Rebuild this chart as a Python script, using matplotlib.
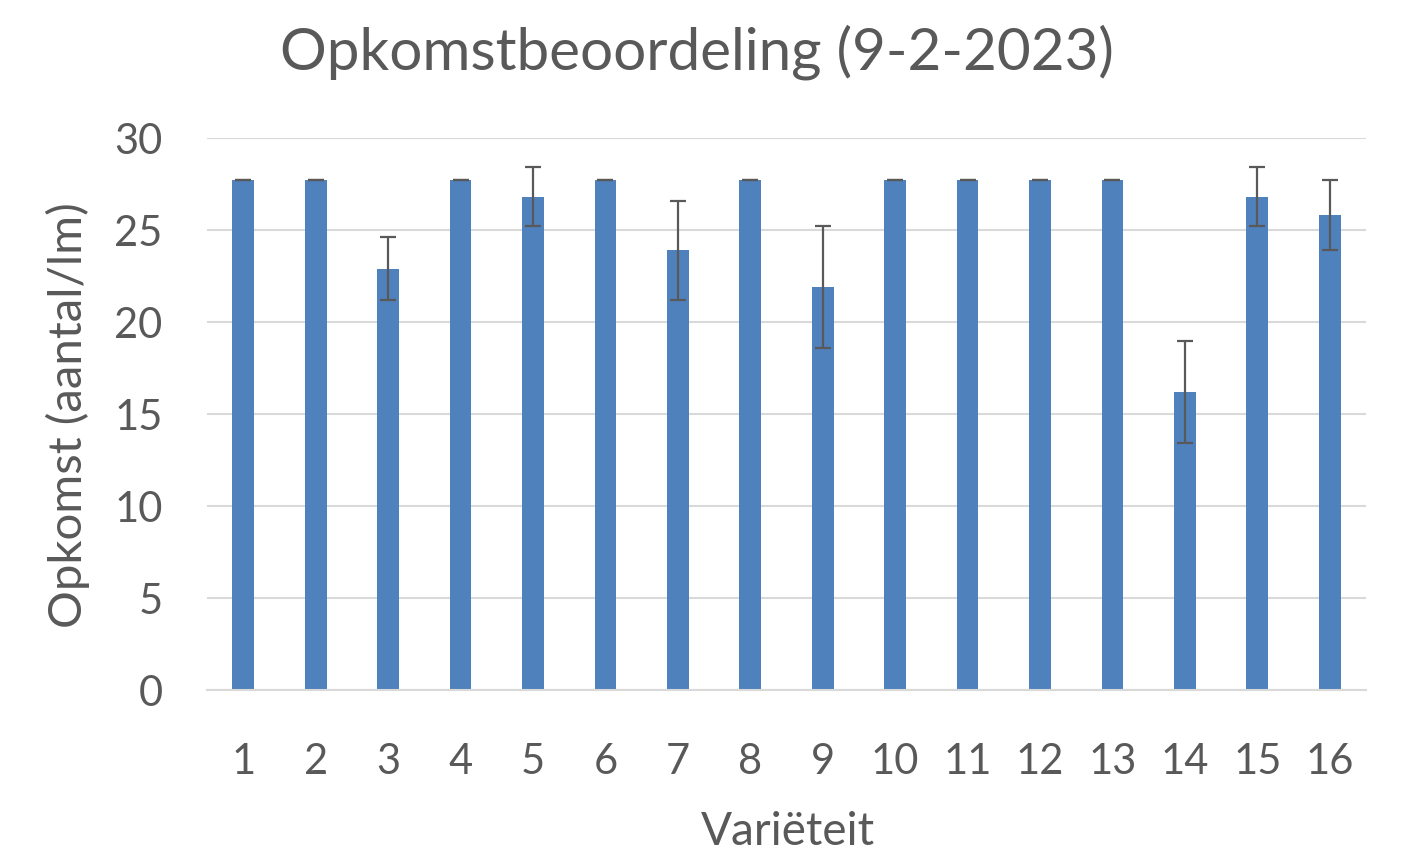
import matplotlib.pyplot as plt
import numpy as np

# Opkomst per variëteit (aantal/lm) met foutbalken
varieteit = ['1', '2', '3', '4', '5', '6', '7', '8', '9', '10', '11', '12', '13', '14', '15', '16']
opkomst = [27.7, 27.7, 22.9, 27.7, 26.8, 27.7, 23.9, 27.7, 21.9, 27.7, 27.7, 27.7, 27.7, 16.2, 26.8, 25.8]
fout = [0, 0, 1.7, 0, 1.6, 0, 2.7, 0, 3.3, 0, 0, 0, 0, 2.75, 1.6, 1.9]
yticks = [0, 5, 10, 15, 20, 25, 30]

plt.rcParams['font.family'] = ['Lato', 'DejaVu Sans']
grey = '#595959'

fig = plt.figure(figsize=(14.01, 8.6), dpi=100)
ax = fig.add_axes([207 / 1401, 1 - 690 / 860, (1366 - 207) / 1401, (690 - 138) / 860])

x = np.arange(len(varieteit))
ax.bar(x, opkomst, width=0.30, color='#4f81bd', zorder=2)
ax.errorbar(x, opkomst, yerr=fout, fmt='none', ecolor=grey, elinewidth=1.6,
            capsize=6, capthick=1.6, zorder=3)

ax.set_xlim(-0.5, len(varieteit) - 0.5)
ax.set_ylim(0, 30)
ax.set_yticks(yticks)
ax.set_xticks(x)
ax.set_xticklabels(varieteit)
ax.yaxis.grid(True, color='#d9d9d9', linewidth=1.5, zorder=0)
ax.set_axisbelow(True)
for s in ['top', 'right', 'left']:
    ax.spines[s].set_visible(False)
ax.spines['bottom'].set_color('#d9d9d9')
ax.spines['bottom'].set_linewidth(1.5)
ax.tick_params(axis='both', length=0, labelsize=30, colors=grey)
ax.tick_params(axis='x', pad=38)
ax.tick_params(axis='y', pad=32)

fig.text(697 / 1401, 1 - 52 / 860, 'Opkomstbeoordeling (9-2-2023)', ha='center', va='center',
         fontsize=42, color=grey)
fig.text(68 / 1401, 1 - 415 / 860, 'Opkomst (aantal/lm)', rotation=90, ha='center', va='center',
         fontsize=34, color=grey)
fig.text(788 / 1401, 1 - 832 / 860, 'Variëteit', ha='center', va='center',
         fontsize=33, color=grey)

fig.savefig('out.png', dpi=100)
